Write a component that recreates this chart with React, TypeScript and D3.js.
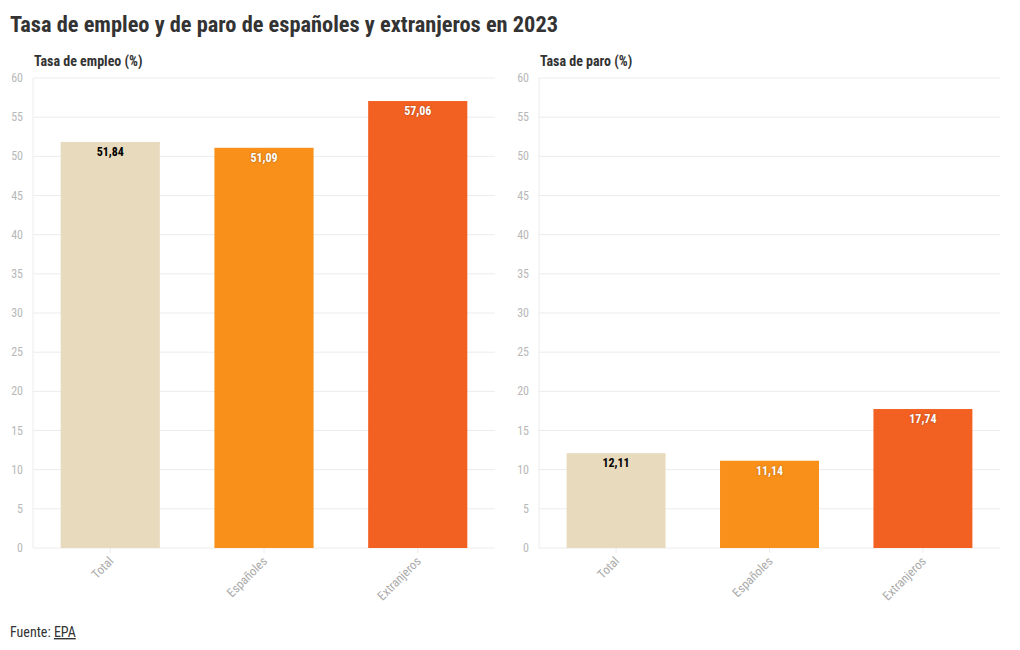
import React from "react";
import * as d3 from "d3";

const categories = ["Total", "Españoles", "Extranjeros"];
const empleoValues = [51.84, 51.09, 57.06];
const paroValues = [12.11, 11.14, 17.74];
const yTicks = [0, 5, 10, 15, 20, 25, 30, 35, 40, 45, 50, 55, 60];
const barColors = ["#e8dbbd", "#f8901a", "#f26122"];
const labelColors = ["#000000", "#ffffff", "#ffffff"];

const FONT = "'Roboto Condensed', 'Liberation Sans Narrow', 'DejaVu Sans Condensed', Roboto, sans-serif";
const W = 1020;
const H = 650;

type PanelProps = { title: string; values: number[]; x0: number; x1: number };

function Panel({ title, values, x0, x1 }: PanelProps) {
  const top = 78;
  const bottom = 548;
  const x = d3.scaleBand<string>().domain(categories).range([x0, x1]).paddingInner(0.355).paddingOuter(0.18);
  const y = d3.scaleLinear().domain([0, 60]).range([bottom, top]);
  return (
    <g>
      <text x={x0 + 1} y={66} fontFamily={FONT} fontSize={14} fontWeight="bold" fill="#333">
        {title}
      </text>
      {yTicks.map((t) => (
        <g key={t}>
          <line x1={x0} x2={x1} y1={y(t)} y2={y(t)} stroke="#ececec" strokeWidth={1} />
          <text x={x0 - 10} y={y(t) + 4} textAnchor="end" fontFamily={FONT} fontSize={12} fill="#b8b8b8">
            {t}
          </text>
        </g>
      ))}
      <line x1={x0} x2={x0} y1={top} y2={bottom} stroke="#ececec" />
      {categories.map((c, i) => {
        const bx = x(c)!;
        const bw = x.bandwidth();
        const cx = bx + bw / 2;
        return (
          <g key={c}>
            <rect x={bx} y={y(values[i])} width={bw} height={bottom - y(values[i])} fill={barColors[i]} />
            <line x1={cx} x2={cx} y1={bottom} y2={bottom + 5} stroke="#ececec" />
            <text
              x={cx}
              y={y(values[i]) + 14}
              textAnchor="middle"
              fontFamily={FONT}
              fontSize={12}
              fontWeight="bold"
              fill={labelColors[i]}
              style={i > 0 ? { textShadow: "0 0 2px rgba(0,0,0,0.35)" } : undefined}
            >
              {values[i].toFixed(2).replace(".", ",")}
            </text>
            <text
              transform={`translate(${cx + 4},${bottom + 14}) rotate(-45)`}
              textAnchor="end"
              fontFamily={FONT}
              fontSize={12.5}
              fill="#aaaaaa"
            >
              {c}
            </text>
          </g>
        );
      })}
    </g>
  );
}

export default function App() {
  return (
    <svg width={W} height={H} style={{ position: "absolute", left: 0, top: 0, background: "#fff" }}>
      <text x={10} y={32} fontFamily={FONT} fontSize={22} fontWeight="bold" fill="#333" textLength={548} lengthAdjust="spacingAndGlyphs">
        Tasa de empleo y de paro de españoles y extranjeros en 2023
      </text>
      <Panel title="Tasa de empleo (%)" values={empleoValues} x0={33} x1={495} />
      <Panel title="Tasa de paro (%)" values={paroValues} x0={539} x1={1000} />
      <text x={10} y={637} fontFamily={FONT} fontSize={14} fill="#333">
        Fuente: <tspan style={{ textDecoration: "underline" }}>EPA</tspan>
      </text>
    </svg>
  );
}
